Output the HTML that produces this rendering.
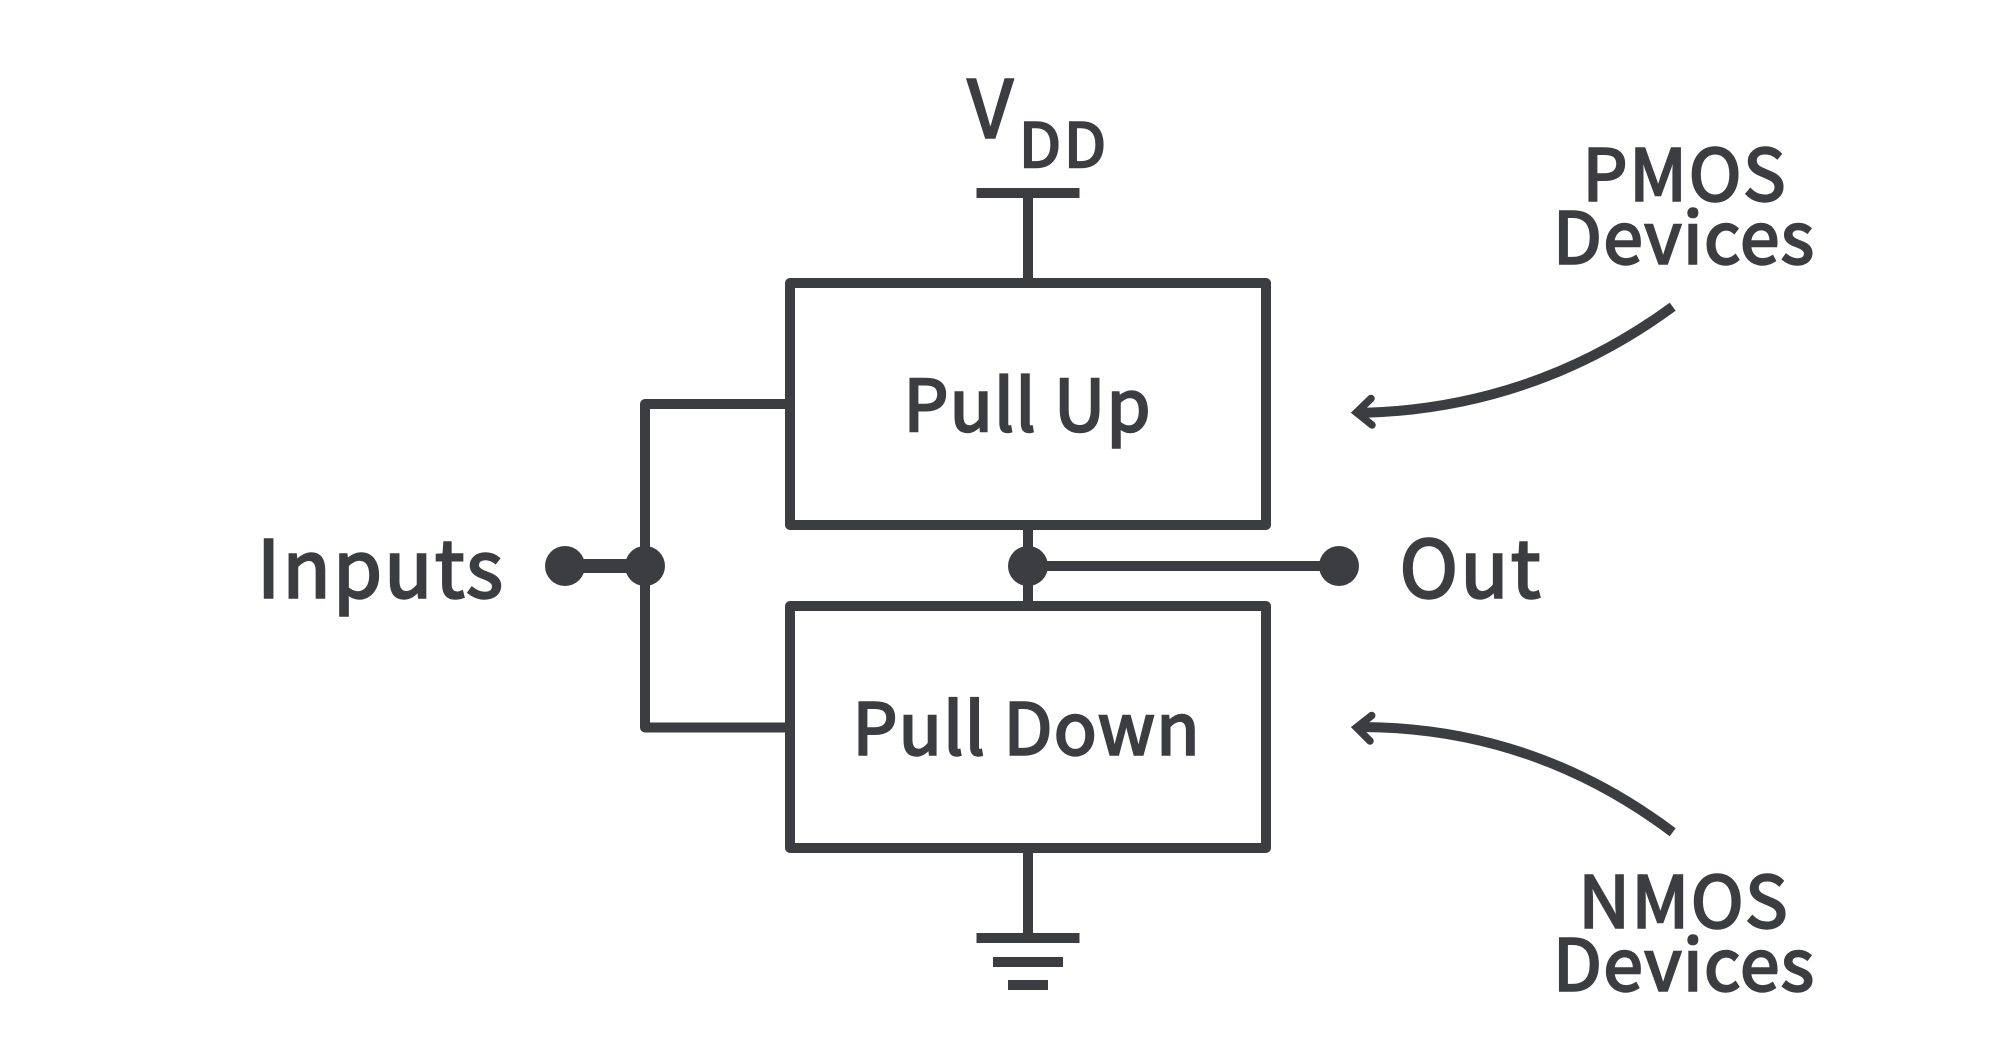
<!DOCTYPE html>
<html><head><meta charset="utf-8"><style>
html,body{margin:0;padding:0;background:#fff;width:2000px;height:1044px;overflow:hidden}
svg{display:block}
text{font-family:"Noto Sans CJK JP","Liberation Sans",sans-serif;font-weight:400;fill:#3c3d41;stroke:#3c3d41;stroke-width:2.4px}
</style></head><body>
<svg width="2000" height="1044" viewBox="0 0 2000 1044" xmlns="http://www.w3.org/2000/svg">
<rect width="2000" height="1044" fill="#fff"/>
<g fill="none" stroke="#3c3d41" stroke-width="10" stroke-linejoin="round">
<rect x="790" y="283" width="476" height="242"/>
<rect x="790" y="606" width="476" height="242"/>
<path d="M1028 193V283M1028 525V606M1028 848V938"/>
<path d="M790 404H645V727.5H790"/>
<path d="M1028 566H1339"/>
</g>
<path d="M565 566H645" stroke="#3c3d41" stroke-width="14" fill="none"/>
<g fill="#3c3d41">
<rect x="976.5" y="188" width="103" height="10"/>
<rect x="976.5" y="933" width="103" height="10"/>
<rect x="993" y="957" width="70" height="10"/>
<rect x="1008" y="980" width="40" height="10"/>
<circle cx="565" cy="566" r="20"/>
<circle cx="645" cy="566" r="20"/>
<circle cx="1028" cy="566" r="20"/>
<circle cx="1339" cy="566" r="20"/>
</g>
<g fill="none" stroke="#3c3d41">
<path d="M1672.7 306.7Q1533 409 1360 413" stroke-width="10"/>
<path d="M1371 398.5L1356.5 412.5L1372 425" stroke-width="7.5" stroke-linecap="round" stroke-linejoin="miter" stroke-miterlimit="8"/>
<path d="M1672.7 832.3Q1533 727 1360 727" stroke-width="10"/>
<path d="M1371.7 715.5L1356.5 727.5L1370 741" stroke-width="7.5" stroke-linecap="round" stroke-linejoin="miter" stroke-miterlimit="8"/>
</g>
<text x="967.5" y="137.5" font-size="79">V</text>
<text x="1019" y="167" font-size="61" textLength="87" lengthAdjust="spacing">DD</text>
<text x="903.5" y="431" font-size="71" textLength="247" lengthAdjust="spacing">Pull Up</text>
<text x="852.5" y="754.5" font-size="71" textLength="347" lengthAdjust="spacing">Pull Down</text>
<text x="257" y="597.5" font-size="79" textLength="246" lengthAdjust="spacing">Inputs</text>
<text x="1399.5" y="597.5" font-size="79" textLength="141" lengthAdjust="spacing">Out</text>
<text x="1582.5" y="200.5" font-size="71" textLength="203" lengthAdjust="spacing">PMOS</text>
<text x="1553" y="263.5" font-size="71" textLength="261" lengthAdjust="spacing">Devices</text>
<text x="1578.5" y="927.5" font-size="71" textLength="209" lengthAdjust="spacing">NMOS</text>
<text x="1553" y="990.5" font-size="71" textLength="261" lengthAdjust="spacing">Devices</text>
</svg>
</body></html>
